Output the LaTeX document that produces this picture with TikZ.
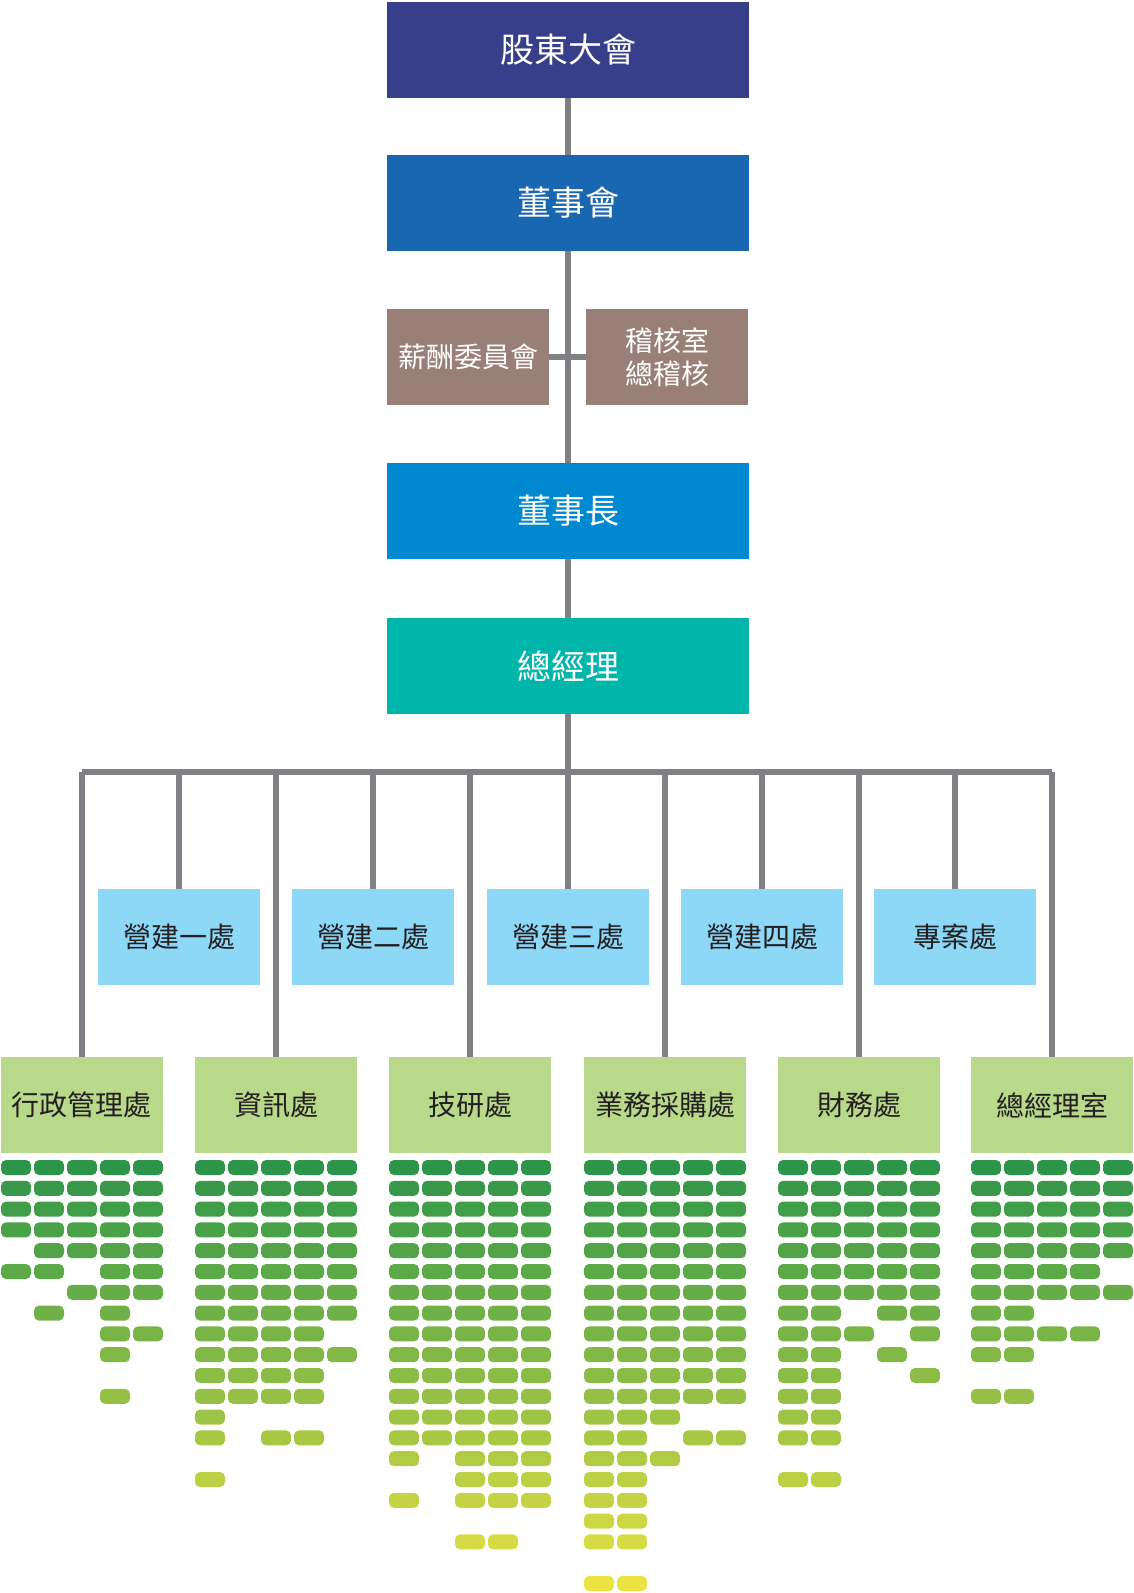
\documentclass[tikz,border=0pt]{standalone}
\usepackage{fontspec}
\setmainfont{Noto Sans CJK TC}
\definecolor{meetblue}{HTML}{373F8A}
\definecolor{boardblue}{HTML}{1A67B1}
\definecolor{chairblue}{HTML}{0088D1}
\definecolor{gmteal}{HTML}{00B5AA}
\definecolor{brownbox}{HTML}{9A7F78}
\definecolor{paleblue}{HTML}{8DD7F7}
\definecolor{palegreen}{HTML}{B8D98A}
\definecolor{linegray}{HTML}{808085}
\definecolor{darktext}{HTML}{231F20}
\definecolor{pilltop}{RGB}{45,149,73}
\definecolor{pillbot}{RGB}{234,227,66}
\begin{document}
\begin{tikzpicture}
  [x=1pt,y=-1pt,
   wide/.style={minimum width=362pt,minimum height=96pt,inner sep=0pt,text=white,font=\fontsize{34}{40}\selectfont},
   unit/.style={minimum width=162pt,minimum height=96pt,inner sep=0pt,align=center,font=\fontsize{28}{33}\selectfont},
   conn/.style={draw=linegray,line width=6pt}]
\useasboundingbox (0,0) rectangle (1133,1593);
\node (meet)[wide,fill=meetblue] at (568,50) {股東大會};
\node (board)[wide,fill=boardblue] at (568,203) {董事會};
\node (pay)[unit,fill=brownbox,text=white] at (468,357) {薪酬委員會};
\node (audit)[unit,fill=brownbox,text=white] at (667,357) {稽核室\\總稽核};
\node (chair)[wide,fill=chairblue] at (568,511) {董事長};
\node (gm)[wide,fill=gmteal] at (568,666) {總經理};
\coordinate (bus) at (568,772);
\path [conn] (meet) -- (board)
  (board) -- (chair)
  (pay) -- (audit)
  (chair) -- (gm)
  (gm) -- (bus);
% construction offices
\foreach \name/\x/\txt in {p1/179/營建一處,p2/373/營建二處,p3/568/營建三處,p4/762/營建四處,p5/955/專案處}{
  \node (\name)[unit,fill=paleblue,text=darktext] at (\x,937) {\txt};
  \draw[conn] (\name.north) -- (\name.north |- bus);
}
% departments
\foreach \name/\x/\txt in {d1/82/行政管理處,d2/276/資訊處,d3/470/技研處,d4/665/業務採購處,d5/859/財務處,d6/1052/總經理室}{
  \node (\name)[unit,fill=palegreen,text=darktext] at (\x,1105) {\txt};
  \draw[conn] (\name.north) -- (\name.north |- bus);
}
\draw[conn] (d1.north |- bus) -- (d6.north |- bus);
% staff pills
\foreach \bx/\rows in {
  1/{0b11111,0b11111,0b11111,0b11111,0b01111,0b11011,0b00111,0b01010,0b00011,0b00010,0b00000,0b00010},
  195/{0b11111,0b11111,0b11111,0b11111,0b11111,0b11111,0b11111,0b11111,0b11110,0b11111,0b11110,0b11110,0b10000,0b10110,0b00000,0b10000},
  389/{0b11111,0b11111,0b11111,0b11111,0b11111,0b11111,0b11111,0b11111,0b11111,0b11111,0b11111,0b11111,0b11111,0b11111,0b10111,0b00111,0b10111,0b00000,0b00110},
  584/{0b11111,0b11111,0b11111,0b11111,0b11111,0b11111,0b11111,0b11111,0b11111,0b11111,0b11111,0b11111,0b11100,0b11011,0b11100,0b11000,0b11000,0b11000,0b11000,0b00000,0b11000},
  778/{0b11111,0b11111,0b11111,0b11111,0b11111,0b11111,0b11111,0b11011,0b11101,0b11010,0b11001,0b11000,0b11000,0b11000,0b00000,0b11000},
  971/{0b11111,0b11111,0b11111,0b11111,0b11111,0b11110,0b11111,0b11000,0b11110,0b11000,0b00000,0b11000}}
  \foreach \p [count=\r from 0] in \rows
    \foreach \c in {0,...,4}{
      \pgfmathtruncatemacro\bit{mod(floor(\p/2^(4-\c)),2)}
      \pgfmathtruncatemacro\pct{5*\r}
      \ifnum\bit=1
        \fill[pillbot!\pct!pilltop,rounded corners=5pt] (\bx+33*\c,1160+20.8*\r) rectangle ++(30,15);
      \fi
    }
\end{tikzpicture}
\end{document}
